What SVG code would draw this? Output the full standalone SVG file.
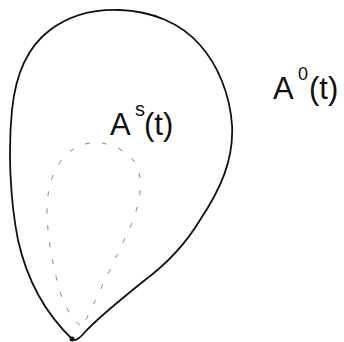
<svg xmlns="http://www.w3.org/2000/svg" width="344" height="342" viewBox="0 0 344 342">
<style>
.lbl{font-family:"Liberation Sans",Arial,sans-serif;fill:#111;font-weight:normal}
</style>
<rect width="344" height="342" fill="#fff"/>
<g id="region-As">
<path d="M73,340 C50,318 28,285 18,240 C10,200 8,150 12,110 C16,70 30,45 50,30 C70,15 95,9 120,10 C150,11 180,22 200,45 C218,65 230,95 232,125 C234,160 220,190 200,220 C185,245 165,265 145,280 C120,300 98,318 85,332 C80,338 76,341 73,340 Z" fill="none" stroke="#111" stroke-width="1.8" stroke-linejoin="round"/>
<circle cx="72" cy="339" r="2.5" fill="#111"/>
<text class="lbl" x="110" y="135" font-size="31">A</text>
<text class="lbl" x="135" y="116" font-size="20">s</text>
<text class="lbl" x="144" y="135" font-size="31">(t)</text>
</g>
<g id="inner-dashed">
<path d="M80,325 C70,318 62,300 58,285 C52,260 47,235 47,210 C47,185 55,165 68,153 C80,143 95,140 110,145 C125,150 135,158 139,172 C143,190 138,210 128,232 C115,260 100,290 85,322" fill="none" stroke="#888" stroke-width="1" stroke-dasharray="5 12"/>
</g>
<g id="region-A0">
<text class="lbl" x="273" y="99" font-size="31">A</text>
<text class="lbl" x="298" y="80" font-size="18">0</text>
<text class="lbl" x="309" y="99" font-size="31">(t)</text>
</g>
</svg>
